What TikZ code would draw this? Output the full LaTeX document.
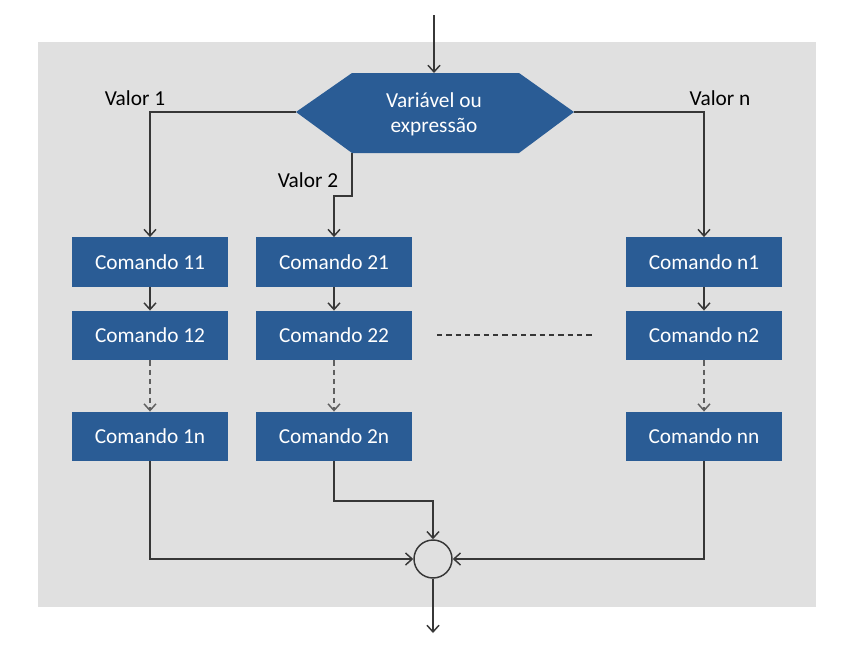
\documentclass[tikz,border=0pt]{standalone}
\usepackage{fontspec}
\setmainfont{Carlito}
\usetikzlibrary{arrows.meta}
\definecolor{bg}{RGB}{224,224,224}
\definecolor{boxblue}{RGB}{42,92,149}
\definecolor{ln}{RGB}{55,55,55}
\tikzset{
  cmd/.style={fill=boxblue, draw=none, text=white, minimum width=117pt, minimum height=37pt, inner sep=0pt, font=\fontsize{16}{19}\selectfont},
  lbl/.style={text=black, font=\fontsize{16}{19}\selectfont, inner sep=0pt},
  conn/.style={draw=ln, line width=1.1pt, -{Straight Barb[length=5pt,width=9pt,line width=1.1pt]}},
  plain/.style={draw=ln, line width=1.1pt},
  dconn/.style={conn, draw=ln!80, dash pattern=on 4pt off 3pt},
}
\begin{document}
\begin{tikzpicture}[x=0.75pt,y=-0.75pt]
\useasboundingbox (0,0) rectangle (864,647);
\fill[white] (0,0) rectangle (864,647);
\fill[bg] (38,42) rectangle (816,607);
% hexagon
\coordinate (hl) at (296,112);
\coordinate (hr) at (574,112);
\coordinate (hbl) at (352,153);
\coordinate (htop) at (434,73);
\coordinate (start) at (434,15);
\fill[boxblue] (296,112) -- (352,73) -- (519,73) -- (574,112) -- (519,153) -- (352,153) -- cycle;
\node[text=white, font=\fontsize{16}{19}\selectfont, align=center, inner sep=0pt] (sw) at (434,114) {Variável ou\\expressão};
% boxes
\node[cmd] (c11) at (150,262) {Comando 11};
\node[cmd] (c12) at (150,335.5) {Comando 12};
\node[cmd] (c1n) at (150,436.5) {Comando 1n};
\node[cmd] (c21) at (334,262) {Comando 21};
\node[cmd] (c22) at (334,335.5) {Comando 22};
\node[cmd] (c2n) at (334,436.5) {Comando 2n};
\node[cmd] (cn1) at (704,262) {Comando n1};
\node[cmd] (cn2) at (704,335.5) {Comando n2};
\node[cmd] (cnn) at (704,436.5) {Comando nn};
% labels
\node[lbl] (v1) at (135,98) {Valor 1};
\node[lbl] (v2) at (308,180) {Valor 2};
\node[lbl] (vn) at (720,98) {Valor n};
% merge circle
\node[circle, draw=ln, line width=1.1pt, minimum size=28.5pt, inner sep=0pt] (m) at (433,559) {};
\coordinate (end) at (433,633);
\coordinate (d1) at (437,335);
\coordinate (d2) at (595,335);
\coordinate (b2) at (352,196);
\coordinate (b3) at (334,196);
\coordinate (b4) at (334,501);
% connectors
\draw[conn] (start) -- (htop);
\draw[conn] (hl) -| (c11.north);
\draw[conn] (hr) -| (cn1.north);
\draw[conn] (hbl) -- (b2) -- (b3) -- (c21.north);
\draw[conn] (c11) -- (c12);
\draw[conn] (c21) -- (c22);
\draw[conn] (cn1) -- (cn2);
\draw[dconn] (c12) -- (c1n);
\draw[dconn] (c22) -- (c2n);
\draw[dconn] (cn2) -- (cnn);
\draw[plain, dash pattern=on 4pt off 3pt] (d1) -- (d2);
\draw[conn] (c1n.south) |- (m.west);
\draw[conn] (cnn.south) |- (m.east);
\draw[conn] (c2n.south) -- (b4) -| (m.north);
\draw[conn] (m.south) -- (end);
\end{tikzpicture}
\end{document}
